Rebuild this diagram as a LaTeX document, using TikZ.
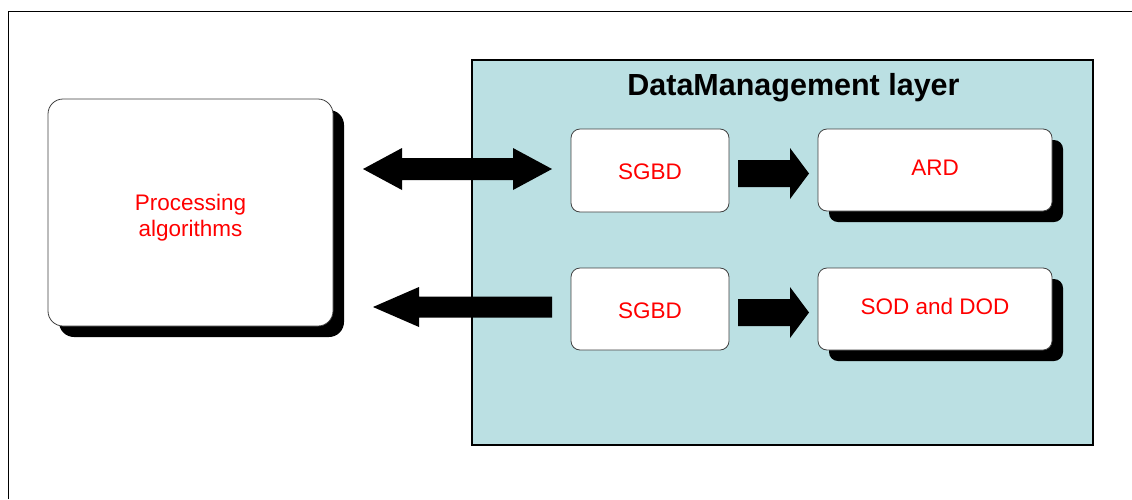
\documentclass[tikz,border=0pt]{standalone}
\usepackage{fontspec}
\setmainfont{Liberation Sans}
\usetikzlibrary{shadows}
\definecolor{panelteal}{RGB}{187,224,227}
\begin{document}
\begin{tikzpicture}[x=1pt,y=-1pt,
  lbl/.style={text=red, font=\fontsize{22.5}{26}\selectfont, align=center, inner sep=0pt},
  roundbox/.style={draw=black!75, line width=0.8pt, fill=white, rounded corners=9pt, inner sep=0pt},
  shadowed/.style={drop shadow={shadow xshift=11pt, shadow yshift=-11pt, fill=black, opacity=1}},
  blockarrow/.style={fill=black, draw=none}
]
\useasboundingbox (0,0) rectangle (1132,499);
% outer frame
\draw[line width=1.5pt] (8.5,499) -- (8.5,11.5) -- (1132,11.5);

% panel
\node[draw=black, line width=1.4pt, fill=panelteal, minimum width=621pt, minimum height=385pt, inner sep=0pt] (panel) at (782.5,252.5) {};
\node[font=\fontsize{30.5}{34}\selectfont\bfseries] (title) at (793.5,87.5) {DataManagement layer};

% processing box
\node[roundbox, rounded corners=15pt, shadowed, minimum width=285pt, minimum height=227pt,
      label={[lbl, yshift=-5pt]center:Processing\\algorithms}] (proc) at (190.5,212.5) {};

% SGBD boxes
\node[roundbox, minimum width=158pt, minimum height=83pt,
      label={[lbl, yshift=-1.5pt]center:SGBD}] (s1) at (650,170.5) {};
\node[roundbox, minimum width=158pt, minimum height=82pt,
      label={[lbl, yshift=-2pt]center:SGBD}] (s2) at (650,309) {};

% target boxes
\node[roundbox, shadowed, minimum width=234pt, minimum height=82pt,
      label={[lbl, yshift=2pt]center:ARD}] (ard) at (935,170) {};
\node[roundbox, shadowed, minimum width=234pt, minimum height=82pt,
      label={[lbl, yshift=3pt]center:SOD and DOD}] (sod) at (935,309) {};

% block arrows
\fill[blockarrow] (363,169) -- (402,148) -- (402,158) -- (513,158) -- (513,148) -- (552,169) -- (513,190) -- (513,180) -- (402,180) -- (402,190) -- cycle;
\fill[blockarrow] (373,307) -- (419,287) -- (419,296.5) -- (552,296.5) -- (552,317.5) -- (419,317.5) -- (419,327) -- cycle;
\fill[blockarrow] (738,160) -- (790,160) -- (790,148) -- (809,173.5) -- (790,199) -- (790,187) -- (738,187) -- cycle;
\fill[blockarrow] (738,299) -- (790,299) -- (790,287) -- (809,312.5) -- (790,338) -- (790,326) -- (738,326) -- cycle;
\end{tikzpicture}
\end{document}
